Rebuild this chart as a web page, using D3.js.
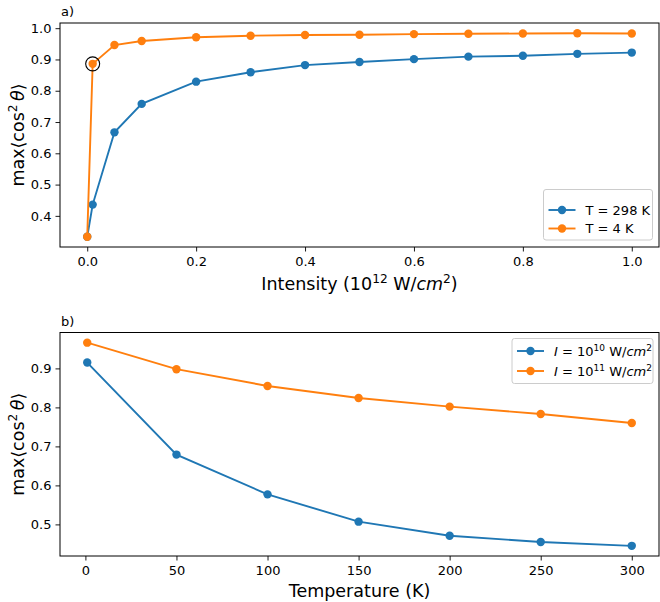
<!DOCTYPE html>
<html>
<head>
<meta charset="utf-8">
<script src="https://cdn.jsdelivr.net/npm/d3@7"></script>
<style>
  body { margin: 0; background: #fff; }
  svg text { font-family: "DejaVu Sans", sans-serif; fill: #000; }
</style>
</head>
<body>
<div id="chart"></div>
<script>
// panel a) : alignment vs intensity
var intensity = [0, 0.01, 0.05, 0.1, 0.2, 0.3, 0.4, 0.5, 0.6, 0.7, 0.8, 0.9, 1.0];
var cosT298 = [0.333, 0.436, 0.667, 0.758, 0.829, 0.859, 0.882, 0.892, 0.901, 0.909, 0.912, 0.918, 0.922];
var cosT4 = [0.333, 0.886, 0.946, 0.959, 0.971, 0.976, 0.978, 0.979, 0.981, 0.982, 0.983, 0.984, 0.983];
var aXTicks = [0.0, 0.2, 0.4, 0.6, 0.8, 1.0];
var aYTicks = [0.4, 0.5, 0.6, 0.7, 0.8, 0.9, 1.0];
var circledIndex = 1; // highlighted point of T = 4 K

// panel b) : alignment vs temperature
var temperature = [1, 50, 100, 150, 200, 250, 300];
var cosI10 = [0.915, 0.679, 0.577, 0.507, 0.471, 0.455, 0.445];
var cosI11 = [0.966, 0.898, 0.855, 0.824, 0.802, 0.783, 0.760];
var bXTicks = [0, 50, 100, 150, 200, 250, 300];
var bYTicks = [0.5, 0.6, 0.7, 0.8, 0.9];

var blue = '#1f77b4', orange = '#ff7f0e';
var W = 660, H = 602;
var dotR = 4.2;

var svg = d3.select('#chart').append('svg')
    .attr('width', W)
    .attr('height', H);

// matplotlib style 5% margins
function padded(lo, hi) {
    var m = (hi - lo) * 0.05;
    return [lo - m, hi + m];
}

function panel(opt) {
    var x = d3.scaleLinear().domain(opt.xdom).range([opt.left, opt.right]);
    var y = d3.scaleLinear().domain(opt.ydom).range([opt.bottom, opt.top]);
    var g = svg.append('g');

    // axes
    g.append('g')
        .attr('transform', `translate(0,${opt.bottom})`)
        .call(d3.axisBottom(x).tickValues(opt.xticks).tickFormat(opt.xfmt).tickSize(4.5).tickPadding(5))
        .call(a => a.select('.domain').remove());
    g.append('g')
        .attr('transform', `translate(${opt.left},0)`)
        .call(d3.axisLeft(y).tickValues(opt.yticks).tickFormat(d3.format('.1f')).tickSize(4.5).tickPadding(4))
        .call(a => a.select('.domain').remove());
    g.selectAll('.tick text')
        .style('font-size', '13px')
        .style('font-family', '"DejaVu Sans", sans-serif')
        .attr('fill', '#000');
    g.selectAll('.tick line').attr('stroke', '#000').attr('stroke-width', 0.9);

    var line = d3.line().x(d => x(d[0])).y(d => y(d[1]));
    opt.series.forEach(function (s) {
        var pts = opt.xs.map((v, i) => [v, s.values[i]]);
        g.append('path')
            .datum(pts)
            .attr('d', line)
            .attr('fill', 'none')
            .attr('stroke', s.color)
            .attr('stroke-width', 1.9);
        g.selectAll(null)
            .data(pts)
            .enter().append('circle')
            .attr('cx', d => x(d[0]))
            .attr('cy', d => y(d[1]))
            .attr('r', dotR)
            .attr('fill', s.color);
    });

    // frame
    g.append('rect')
        .attr('x', opt.left).attr('y', opt.top)
        .attr('width', opt.right - opt.left).attr('height', opt.bottom - opt.top)
        .attr('fill', 'none').attr('stroke', '#000').attr('stroke-width', 1);

    // panel tag
    g.append('text')
        .attr('x', opt.left + 1).attr('y', opt.top - 7)
        .style('font-size', '13px')
        .text(opt.tag);

    // y label: max<cos^2 theta>
    var yl = g.append('text')
        .attr('transform', `translate(24,${(opt.top + opt.bottom) / 2}) rotate(-90)`)
        .attr('text-anchor', 'middle')
        .style('font-size', '17.5px');
    yl.append('tspan').text('max⟨cos');
    yl.append('tspan').attr('dy', -7).style('font-size', '12.2px').text('2');
    yl.append('tspan').attr('dy', 7).text('\u2009');
    yl.append('tspan').style('font-style', 'italic').text('θ');
    yl.append('tspan').text('⟩');

    return {x: x, y: y, g: g};
}

// panel a
var pa = panel({
    left: 60, right: 659, top: 23, bottom: 247,
    xdom: padded(0, 1), ydom: padded(0.333, 0.984),
    xticks: aXTicks, yticks: aYTicks, xfmt: d3.format('.1f'),
    xs: intensity,
    series: [{values: cosT298, color: blue}, {values: cosT4, color: orange}],
    tag: 'a)'
});

// highlight circle
pa.g.append('circle')
    .attr('cx', pa.x(intensity[circledIndex]))
    .attr('cy', pa.y(cosT4[circledIndex]))
    .attr('r', 7)
    .attr('fill', 'none')
    .attr('stroke', '#000')
    .attr('stroke-width', 1.1);

var xla = pa.g.append('text')
    .attr('x', 359.5).attr('y', 290)
    .attr('text-anchor', 'middle')
    .style('font-size', '17.5px');
xla.append('tspan').text('Intensity (10');
xla.append('tspan').attr('dy', -7).style('font-size', '12.2px').text('12');
xla.append('tspan').attr('dy', 7).text(' W/');
xla.append('tspan').style('font-style', 'italic').text('cm');
xla.append('tspan').attr('dy', -7).style('font-size', '12.2px').text('2');
xla.append('tspan').attr('dy', 7).text(')');

// panel b
var pb = panel({
    left: 60, right: 659, top: 332.5, bottom: 556,
    xdom: padded(1, 300), ydom: padded(0.445, 0.966),
    xticks: bXTicks, yticks: bYTicks, xfmt: d3.format('d'),
    xs: temperature,
    series: [{values: cosI10, color: blue}, {values: cosI11, color: orange}],
    tag: 'b)'
});

pb.g.append('text')
    .attr('x', 359.5).attr('y', 597)
    .attr('text-anchor', 'middle')
    .style('font-size', '17.5px')
    .text('Temperature (K)');

// legends
function legend(box, rows) {
    var g = svg.append('g');
    g.append('rect')
        .attr('x', box.x).attr('y', box.y).attr('width', box.w).attr('height', box.h)
        .attr('rx', 2.5)
        .attr('fill', '#fff').attr('fill-opacity', 0.8)
        .attr('stroke', '#cccccc').attr('stroke-width', 1);
    rows.forEach(function (r, i) {
        var cy = box.y + box.first + i * box.step;
        g.append('line')
            .attr('x1', box.x + 5).attr('x2', box.x + 32)
            .attr('y1', cy).attr('y2', cy)
            .attr('stroke', r.color).attr('stroke-width', 1.9);
        g.append('circle')
            .attr('cx', box.x + 18.5).attr('cy', cy).attr('r', dotR).attr('fill', r.color);
        var t = g.append('text')
            .attr('x', box.x + 42).attr('y', cy + 4.5)
            .style('font-size', '13px');
        r.label(t);
    });
}

legend({x: 543.5, y: 189.5, w: 109, h: 50.5, first: 20.5, step: 18.5}, [
    {color: blue, label: t => t.text('T = 298 K')},
    {color: orange, label: t => t.text('T = 4 K')}
]);

function intensityLabel(exp) {
    return function (t) {
        t.append('tspan').style('font-style', 'italic').text('I');
        t.append('tspan').text(' = 10');
        t.append('tspan').attr('dy', -5).style('font-size', '9px').text(exp);
        t.append('tspan').attr('dy', 5).text(' W/');
        t.append('tspan').style('font-style', 'italic').text('cm');
        t.append('tspan').attr('dy', -5).style('font-size', '9px').text('2');
    };
}

legend({x: 512, y: 338.5, w: 141, h: 45, first: 12.5, step: 20}, [
    {color: blue, label: intensityLabel('10')},
    {color: orange, label: intensityLabel('11')}
]);
</script>
</body>
</html>
